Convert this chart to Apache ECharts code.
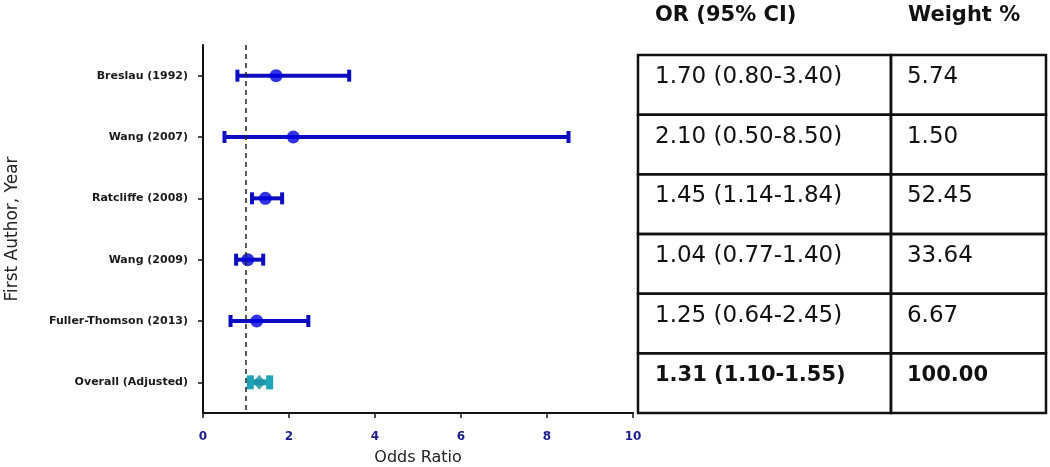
<!DOCTYPE html>
<html>
<head>
<meta charset="utf-8">
<script src="https://cdn.jsdelivr.net/npm/echarts@6/dist/echarts.min.js"></script>
<style>html,body{margin:0;padding:0;background:#fff;}#c{width:1050px;height:467px;}</style>
</head>
<body>
<div id="c"></div>
<script>
const categories = ['Breslau (1992)', 'Wang (2007)', 'Ratcliffe (2008)', 'Wang (2009)', 'Fuller-Thomson (2013)', 'Overall (Adjusted)'];
const orValues = [1.70, 2.10, 1.45, 1.04, 1.25, 1.31];
const ciLow = [0.80, 0.50, 1.14, 0.77, 0.64, 1.10];
const ciHigh = [3.40, 8.50, 1.84, 1.40, 2.45, 1.55];
const weights = [5.74, 1.50, 52.45, 33.64, 6.67, 100.00];
const xMin = 0, xMax = 10, xInterval = 2;
const refValue = 1;
const tableHeaders = ['OR (95% CI)', 'Weight %'];

const overallIndex = categories.length - 1;
const blue = '#0c0cc0';
const dotBlue = '#0000e0';
const teal = '#1fa3b8';
const FONT = 'DejaVu Sans';
const colSplit = 0.62;

const chart = echarts.init(document.getElementById('c'), null, {renderer: 'canvas'});

const orTexts = categories.map((c, i) => orValues[i].toFixed(2) + ' (' + ciLow[i].toFixed(2) + '-' + ciHigh[i].toFixed(2) + ')');
const weightTexts = weights.map(w => w.toFixed(2));

chart.setOption({
  animation: false,
  grid: [
    {left: 203, right: 417, top: 45, bottom: 54, containLabel: false, outerBoundsMode: 'none'},
    {left: 638, right: 4, top: 55, bottom: 54, containLabel: false, outerBoundsMode: 'none'}
  ],
  xAxis: [
    {
      type: 'value', gridIndex: 0, min: xMin, max: xMax, interval: xInterval,
      splitLine: {show: false},
      axisLine: {show: true, onZero: false, lineStyle: {color: '#111', width: 2}},
      axisTick: {show: true, inside: false, length: 5, lineStyle: {color: '#111', width: 1.5}},
      axisLabel: {margin: 18, fontFamily: FONT, fontWeight: 'bold', fontSize: 12, color: '#1b1b8a'},
      name: 'Odds Ratio', nameLocation: 'middle', nameGap: 37,
      nameTextStyle: {fontFamily: FONT, fontSize: 16, color: '#222'}
    },
    {type: 'value', gridIndex: 1, min: 0, max: 1, show: false}
  ],
  yAxis: [
    {
      type: 'category', gridIndex: 0, data: categories, inverse: true,
      axisLine: {show: true, lineStyle: {color: '#111', width: 2}},
      axisTick: {show: true, alignWithLabel: true, length: 5, lineStyle: {color: '#111', width: 1.5}},
      axisLabel: {margin: 15, fontFamily: FONT, fontWeight: 'bold', fontSize: 11, color: '#1a1a1a'},
      splitLine: {show: false},
      name: 'First Author, Year', nameLocation: 'middle', nameRotate: 90, nameGap: 182,
      nameTextStyle: {fontFamily: FONT, fontSize: 17, color: '#222'}
    },
    {type: 'category', gridIndex: 1, data: categories, inverse: true, show: false}
  ],
  graphic: [
    {type: 'text', left: 655, top: 5, style: {text: tableHeaders[0], font: 'bold 21px "DejaVu Sans"', fill: '#111'}},
    {type: 'text', left: 908, top: 5, style: {text: tableHeaders[1], font: 'bold 21px "DejaVu Sans"', fill: '#111'}}
  ],
  series: [
    {
      type: 'custom', xAxisIndex: 0, yAxisIndex: 0, z: 2,
      data: categories.map((c, i) => [ciLow[i], ciHigh[i], i]),
      encode: {x: [0, 1], y: 2},
      renderItem: function (params, api) {
        const idx = api.value(2);
        const p1 = api.coord([api.value(0), idx]);
        const p2 = api.coord([api.value(1), idx]);
        const isOverall = idx === overallIndex;
        const col = isOverall ? teal : blue;
        const lw = isOverall ? 6 : 4;
        const capW = isOverall ? 7 : 4;
        const capH = isOverall ? 14 : 12;
        return {
          type: 'group',
          children: [
            {type: 'line', shape: {x1: p1[0], y1: p1[1], x2: p2[0], y2: p2[1]}, style: {stroke: col, lineWidth: lw}},
            {type: 'rect', shape: {x: p1[0] - capW / 2, y: p1[1] - capH / 2, width: capW, height: capH}, style: {fill: col}},
            {type: 'rect', shape: {x: p2[0] - capW / 2, y: p2[1] - capH / 2, width: capW, height: capH}, style: {fill: col}}
          ]
        };
      }
    },
    {
      type: 'scatter', xAxisIndex: 0, yAxisIndex: 0, z: 3,
      data: categories.map((c, i) => ({
        value: [orValues[i], i],
        symbol: i === overallIndex ? 'diamond' : 'circle',
        symbolSize: i === overallIndex ? [13, 15] : 13,
        itemStyle: {color: i === overallIndex ? '#178fa3' : dotBlue}
      })),
      markLine: {
        silent: true, symbol: 'none', label: {show: false},
        lineStyle: {color: '#222', type: [5, 4], width: 1.5},
        data: [{xAxis: refValue}]
      }
    },
    {
      type: 'custom', xAxisIndex: 1, yAxisIndex: 1, z: 2,
      data: categories.map((c, i) => [0, i]),
      encode: {x: 0, y: 1},
      renderItem: function (params, api) {
        const idx = api.value(1);
        const cs = params.coordSys;
        const center = api.coord([0, idx]);
        const h = api.size([0, 1])[1];
        const top = center[1] - h / 2;
        const splitX = cs.x + cs.width * colSplit;
        const bold = idx === overallIndex;
        const font = (bold ? 'bold 21px' : '23px') + ' "DejaVu Sans"';
        return {
          type: 'group',
          children: [
            {type: 'rect', shape: {x: cs.x, y: top, width: splitX - cs.x, height: h}, style: {fill: 'none', stroke: '#111', lineWidth: 2.5}},
            {type: 'rect', shape: {x: splitX, y: top, width: cs.x + cs.width - splitX, height: h}, style: {fill: 'none', stroke: '#111', lineWidth: 2.5}},
            {type: 'text', x: cs.x + 17, y: top + 22, style: {text: orTexts[idx], font: font, fill: '#111', verticalAlign: 'middle', align: 'left'}},
            {type: 'text', x: splitX + 16, y: top + 22, style: {text: weightTexts[idx], font: font, fill: '#111', verticalAlign: 'middle', align: 'left'}}
          ]
        };
      }
    }
  ]
});
</script>
</body>
</html>
